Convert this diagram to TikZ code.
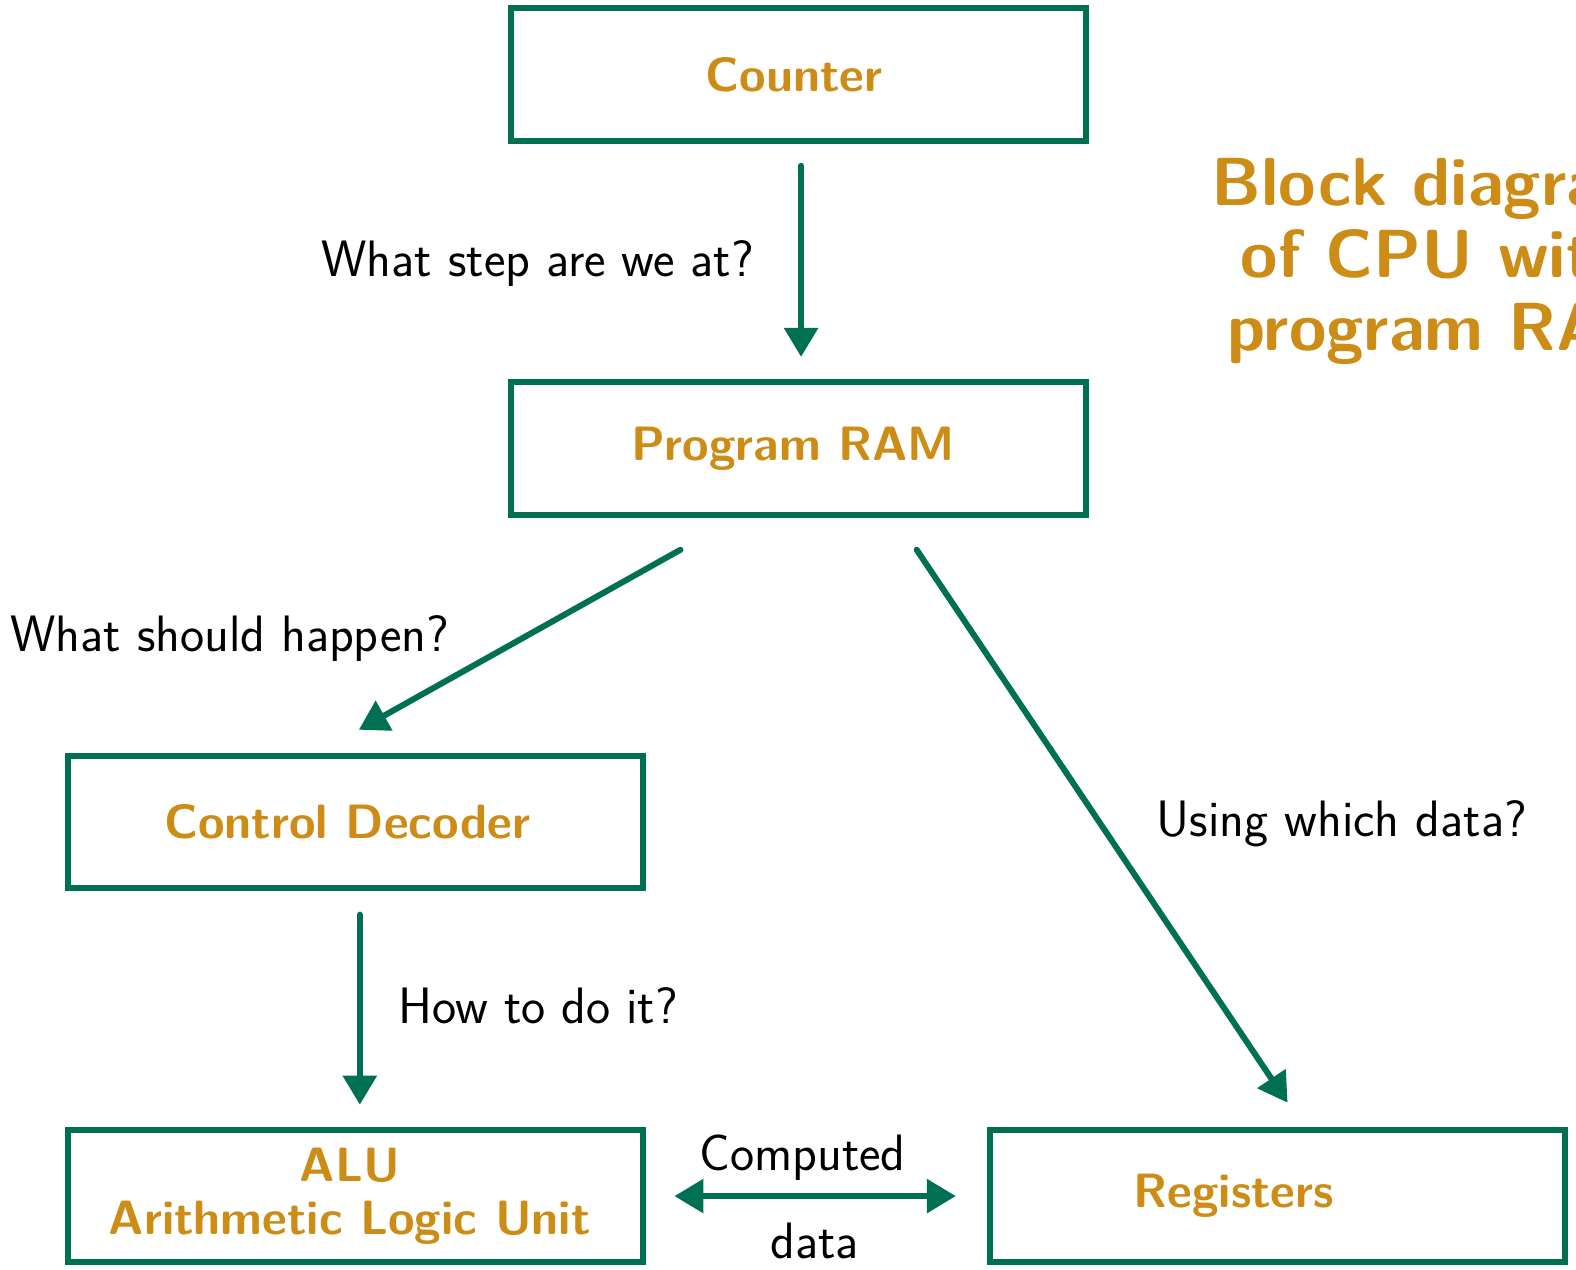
\documentclass[tikz,border=0pt]{standalone}
\usetikzlibrary{arrows.meta,calc}
\definecolor{boxgreen}{RGB}{0,112,82}
\definecolor{boxgold}{RGB}{204,140,22}
\tikzset{
  unitbox/.style={draw=boxgreen, line width=3pt, rectangle,
    minimum width=287.5pt, minimum height=66.3pt, inner sep=0pt},
  boxtext/.style={text=boxgold, inner sep=0pt, align=center,
    font=\sffamily\bfseries\fontsize{24.1}{26.5}\selectfont},
  flow/.style={draw=boxgreen, line width=3pt, line cap=round,
    -{Triangle[length=14.5pt,width=16.5pt]}},
  twoway/.style={draw=boxgreen, line width=3pt,
    {Triangle[length=14.5pt,width=16.5pt]}-{Triangle[length=14.5pt,width=16.5pt]}},
  question/.style={anchor=base, inner sep=0pt, font=\sffamily\fontsize{25.6}{30}\selectfont},
  heading/.style={text=boxgold, align=center, inner sep=0pt,
    font=\sffamily\bfseries\fontsize{34}{36.4}\selectfont}
}
\begin{document}
\begin{tikzpicture}[x=0.50255pt,y=-0.50255pt]
\clip (0,0) rectangle (1568,1263);
\fill[white] (0,0) rectangle (1568,1263);

% blocks
\node[unitbox] (counter) at (794,74) {};
\node[unitbox] (ram) at (794,446) {};
\node[unitbox] (decoder) at (354,818) {};
\node[unitbox] (alu) at (354,1190) {};
\node[unitbox] (regs) at (1271,1190) {};

% block captions
\node[boxtext] (counter-text) at (790,74) {Counter};
\node[boxtext] (ram-text) at (789,446) {Program RAM};
\node[boxtext] (decoder-text) at (345.5,818) {Control Decoder};
\node[boxtext] (alu-text) at (348,1190) {ALU\\Arithmetic Logic Unit};
\node[boxtext] (regs-text) at (1227.5,1190) {Registers};

% title
\node[heading] (title) at (1429,260) {Block diagram\\of CPU with\\\hspace*{14pt}program RAM};

% connectors
\draw[flow] ($(counter.south)+(3,22)$) -- ($(ram.north)+(3,-22)$);
\draw[flow] ($(ram.south)+(-117,32)$) -- ($(decoder.north)+(3,-23)$);
\draw[flow] ($(ram.south)+(118,32)$) -- ($(regs.north)+(10,-24)$);
\draw[flow] ($(decoder.south)+(4,23)$) -- ($(alu.north)+(4,-22)$);
\draw[twoway] ($(alu.east)+(28,0)$) -- ($(regs.west)+(-31,0)$);

% connector labels
\node[question] (q1) at (535,275) {What step are we at?};
\node[question] (q2) at (228.5,648) {What should happen?};
\node[question] (q3) at (1335,832) {Using which data?};
\node[question] (q4) at (535.5,1018) {How to do it?};
\node[question] (q5) at (798.5,1165) {Computed};
\node[question] (q6) at (810.5,1252) {data};
\end{tikzpicture}
\end{document}
